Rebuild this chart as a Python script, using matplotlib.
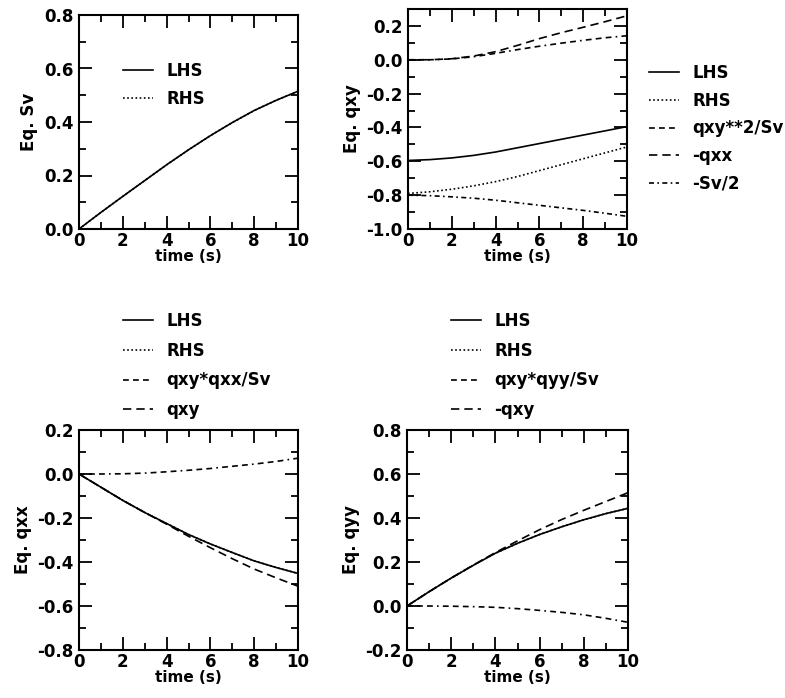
import matplotlib
matplotlib.use("Agg")
import matplotlib.pyplot as plt
from matplotlib.ticker import MultipleLocator, FormatStrFormatter

plt.rcParams['font.family'] = ['DejaVu Sans']

t = [0, 1, 2, 3, 4, 5, 6, 7, 8, 9, 10]

# Eq. Sv
sv_lhs = [0.0, 0.062, 0.122, 0.181, 0.240, 0.296, 0.349, 0.398, 0.443, 0.481, 0.515]
sv_rhs = [0.0, 0.062, 0.122, 0.181, 0.240, 0.296, 0.349, 0.398, 0.443, 0.481, 0.515]

# Eq. qxy
qxy_lhs = [-0.595, -0.590, -0.580, -0.565, -0.545, -0.520, -0.495, -0.470, -0.445, -0.420, -0.395]
qxy_rhs = [-0.790, -0.780, -0.765, -0.745, -0.720, -0.690, -0.655, -0.620, -0.585, -0.550, -0.515]
qxy_sq_sv = [0.0, 0.0, 0.005, 0.018, 0.038, 0.060, 0.080, 0.098, 0.115, 0.130, 0.142]
qxy_mqxx = [0.0, 0.0, 0.006, 0.022, 0.048, 0.085, 0.125, 0.160, 0.192, 0.225, 0.260]
qxy_msv2 = [-0.800, -0.803, -0.810, -0.818, -0.830, -0.845, -0.860, -0.875, -0.890, -0.907, -0.925]

# Eq. qxx
qxx_lhs = [0.0, -0.060, -0.120, -0.175, -0.225, -0.275, -0.318, -0.357, -0.395, -0.425, -0.452]
qxx_rhs = [0.0, -0.060, -0.120, -0.175, -0.225, -0.275, -0.318, -0.357, -0.395, -0.425, -0.452]
qxx_prod = [0.0, 0.0, 0.001, 0.004, 0.010, 0.017, 0.025, 0.035, 0.045, 0.057, 0.072]
qxx_qxy = [0.0, -0.060, -0.120, -0.175, -0.228, -0.283, -0.335, -0.385, -0.432, -0.472, -0.510]

# Eq. qyy
qyy_lhs = [0.0, 0.065, 0.127, 0.185, 0.240, 0.285, 0.325, 0.360, 0.392, 0.420, 0.444]
qyy_rhs = [0.0, 0.065, 0.127, 0.185, 0.240, 0.285, 0.325, 0.360, 0.392, 0.420, 0.444]
qyy_prod = [0.0, 0.0, -0.001, -0.003, -0.006, -0.012, -0.020, -0.029, -0.040, -0.056, -0.074]
qyy_mqxy = [0.0, 0.065, 0.127, 0.186, 0.243, 0.296, 0.347, 0.393, 0.435, 0.475, 0.515]

W, H = 785, 698
fig = plt.figure(figsize=(W / 100, H / 100), dpi=100)


def axes_px(x0, y0, x1, y1):
    return fig.add_axes([x0 / W, 1 - y1 / H, (x1 - x0) / W, (y1 - y0) / H])


SOLID = '-'
DOT = (0, (1, 1.5))
SDASH = (0, (3.5, 2.5, 3.5, 2.5, 3.5, 2.5, 1, 2.5))
LDASH = (0, (5, 3))
DDOT = (0, (3, 2, 1, 2))


def style(ax, ylim, ymaj, ylabel):
    ax.set_xlim(0, 10)
    ax.set_ylim(*ylim)
    ax.xaxis.set_major_locator(MultipleLocator(2))
    ax.xaxis.set_minor_locator(MultipleLocator(1))
    ax.yaxis.set_major_locator(MultipleLocator(ymaj))
    ax.yaxis.set_minor_locator(MultipleLocator(ymaj / 2))
    ax.yaxis.set_major_formatter(FormatStrFormatter('%.1f'))
    ax.tick_params(which='both', direction='in', top=True, right=True,
                   width=1.3, labelsize=12, pad=4)
    ax.tick_params(axis='x', which='both', pad=2.5)
    ax.tick_params(which='major', length=9.5)
    ax.tick_params(which='minor', length=5)
    for s in ax.spines.values():
        s.set_linewidth(1.5)
    for lab in ax.get_xticklabels() + ax.get_yticklabels():
        lab.set_fontweight('bold')
    ax.set_xlabel('time (s)', fontsize=11, fontweight='bold', labelpad=-1)
    ax.set_ylabel(ylabel, fontsize=12, fontweight='bold', labelpad=4)


def legend(ax, x, y, spacing):
    ax.legend(loc='upper left', bbox_to_anchor=(x / W, 1 - y / H),
              bbox_transform=fig.transFigure, frameon=False,
              prop={'size': 12, 'weight': 'bold'},
              handlelength=1.8, handletextpad=0.78, labelspacing=spacing,
              borderpad=0, borderaxespad=0)


lw = 1.2

ax1 = axes_px(79, 15, 298, 229)
ax1.plot(t, sv_lhs, color='black', lw=lw, ls=SOLID, label='LHS')
ax1.plot(t, sv_rhs, color='black', lw=lw, ls=DOT, label='RHS')
style(ax1, (0, 0.8), 0.2, 'Eq. Sv')
legend(ax1, 123, 62, 0.58)

ax2 = axes_px(408, 9, 627, 229)
ax2.plot(t, qxy_lhs, color='black', lw=lw, ls=SOLID, label='LHS')
ax2.plot(t, qxy_rhs, color='black', lw=lw, ls=DOT, label='RHS')
ax2.plot(t, qxy_sq_sv, color='black', lw=lw, ls=SDASH, label='qxy**2/Sv')
ax2.plot(t, qxy_mqxx, color='black', lw=lw, ls=LDASH, label='-qxx')
ax2.plot(t, qxy_msv2, color='black', lw=lw, ls=DDOT, label='-Sv/2')
style(ax2, (-1.0, 0.3), 0.2, 'Eq. qxy')
legend(ax2, 649, 64, 0.58)

ax3 = axes_px(79, 430, 298, 650)
ax3.plot(t, qxx_lhs, color='black', lw=lw, ls=SOLID, label='LHS')
ax3.plot(t, qxx_rhs, color='black', lw=lw, ls=DOT, label='RHS')
ax3.plot(t, qxx_prod, color='black', lw=lw, ls=SDASH, label='qxy*qxx/Sv')
ax3.plot(t, qxx_qxy, color='black', lw=lw, ls=LDASH, label='qxy')
style(ax3, (-0.8, 0.2), 0.2, 'Eq. qxx')
legend(ax3, 123, 312, 0.7)

ax4 = axes_px(407, 430, 628, 650)
ax4.plot(t, qyy_lhs, color='black', lw=lw, ls=SOLID, label='LHS')
ax4.plot(t, qyy_rhs, color='black', lw=lw, ls=DOT, label='RHS')
ax4.plot(t, qyy_prod, color='black', lw=lw, ls=SDASH, label='qxy*qyy/Sv')
ax4.plot(t, qyy_mqxy, color='black', lw=lw, ls=LDASH, label='-qxy')
style(ax4, (-0.2, 0.8), 0.2, 'Eq. qyy')
legend(ax4, 451, 312, 0.7)

fig.savefig('out.png', dpi=100)
